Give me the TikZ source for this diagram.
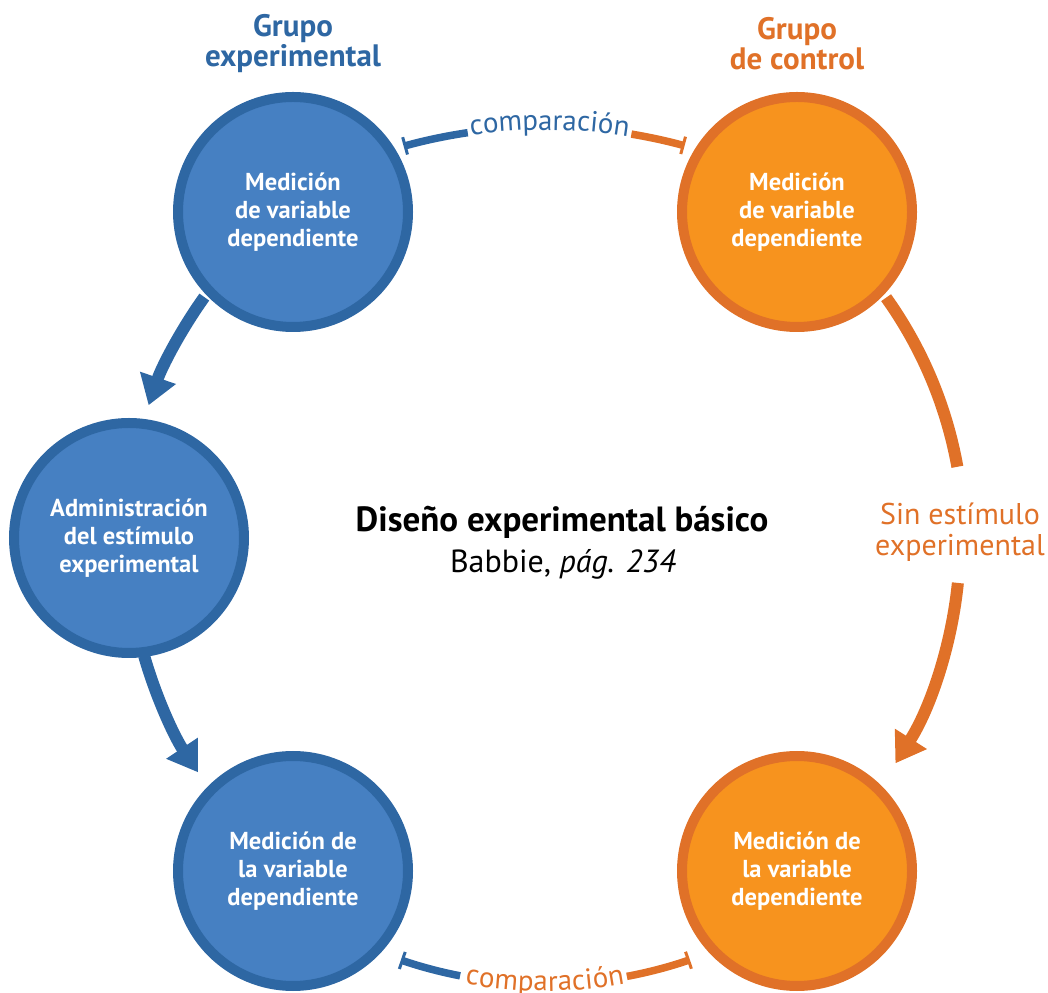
\documentclass[tikz,border=0pt]{standalone}
\usepackage{fontspec}
\setmainfont{PT Sans}
\usetikzlibrary{arrows.meta,decorations.text}
\definecolor{bfill}{HTML}{4680C2}
\definecolor{bline}{HTML}{2E67A3}
\definecolor{ofill}{HTML}{F7931E}
\definecolor{oline}{HTML}{E07128}
\begin{document}
\begin{tikzpicture}[x=1pt,y=1pt,
  circbase/.style={circle,line width=10pt,minimum size=230pt,inner sep=0pt,text=white,
    font=\bfseries\fontsize{24.5}{28}\selectfont,align=center},
  bcirc/.style={circbase,draw=bline,fill=bfill},
  ocirc/.style={circbase,draw=oline,fill=ofill},
  bigarrow/.style={line width=12pt,-{Triangle[length=29pt,width=36pt]}},
  bigline/.style={line width=12pt},
  cmpline/.style={line width=7.5pt},
  grp/.style={font=\bfseries\fontsize{31}{30}\selectfont,align=center},
  side/.style={font=\fontsize{30}{31}\selectfont,align=center,text=oline}
]
\useasboundingbox (0,0) rectangle (1048,992);
\coordinate (c) at (545,451);
\coordinate (ct) at (545,336);
\coordinate (cb) at (545,453);

\node[bcirc] (tl) at (293,780) {Medición\\de variable\\dependiente};
\node[ocirc] (tr) at (797,780) {Medición\\de variable\\dependiente};
\node[bcirc] (ml) at (129,454) {Administración\\del estímulo\\experimental};
\node[bcirc] (bl) at (293,121) {Medición de\\la variable\\dependiente};
\node[ocirc] (br) at (797,121) {Medición de\\la variable\\dependiente};

\node[grp,text=bline] (gexp) at (293,948) {Grupo\\experimental};
\node[grp,text=oline] (gctl) at (797,948) {Grupo\\de control};

\node[font=\bfseries\fontsize{35}{40}\selectfont] (title) at (562,470) {Diseño experimental básico};
\node[font=\fontsize{32}{38}\selectfont] (sub) at (563,428) {Babbie, \textit{pág. 234}};

\node[side] (sin) at (960,460) {Sin estímulo\\experimental};

% blue arrows
\draw[bigarrow,bline] ([shift={(144.4:419)}]c) arc[start angle=144.4,end angle=161.1,radius=419];
\draw[bigarrow,bline] ([shift={(196:417)}]c) arc[start angle=196,end angle=213.7,radius=417];
% orange
\draw[bigline,oline] ([shift={(35.5:419)}]c) arc[start angle=35.5,end angle=10.2,radius=419];
\draw[bigarrow,oline] ([shift={(-5.8:415)}]c) arc[start angle=-5.8,end angle=-32.4,radius=415];

% top comparacion
\draw[cmpline,bline,{Bar[width=18pt,line width=3pt]}-] ([shift={(105.5:529)}]ct) arc[start angle=105.5,end angle=98.4,radius=529];
\draw[cmpline,oline,-{Bar[width=18pt,line width=3pt]}] ([shift={(80.6:529)}]ct) arc[start angle=80.6,end angle=74.7,radius=529];
\path[decorate,decoration={text along path,text align=center,raise=-3pt,
  text={|\fontsize{29}{30}\selectfont\color{bline}|comparación}}]
  ([shift={(104.5:529)}]ct) arc[start angle=104.5,end angle=74.5,radius=529];

% bottom comparacion
\draw[cmpline,bline,{Bar[width=18pt,line width=3pt]}-] ([shift={(251.1:445)}]cb) arc[start angle=251.1,end angle=259,radius=445];
\draw[cmpline,oline,-{Bar[width=18pt,line width=3pt]}] ([shift={(280.6:445)}]cb) arc[start angle=280.6,end angle=289,radius=445];
\path[decorate,decoration={text along path,text align=center,raise=-7pt,
  text={|\fontsize{29}{30}\selectfont\color{oline}|comparación}}]
  ([shift={(250:445)}]cb) arc[start angle=250,end angle=290,radius=445];
\end{tikzpicture}
\end{document}
